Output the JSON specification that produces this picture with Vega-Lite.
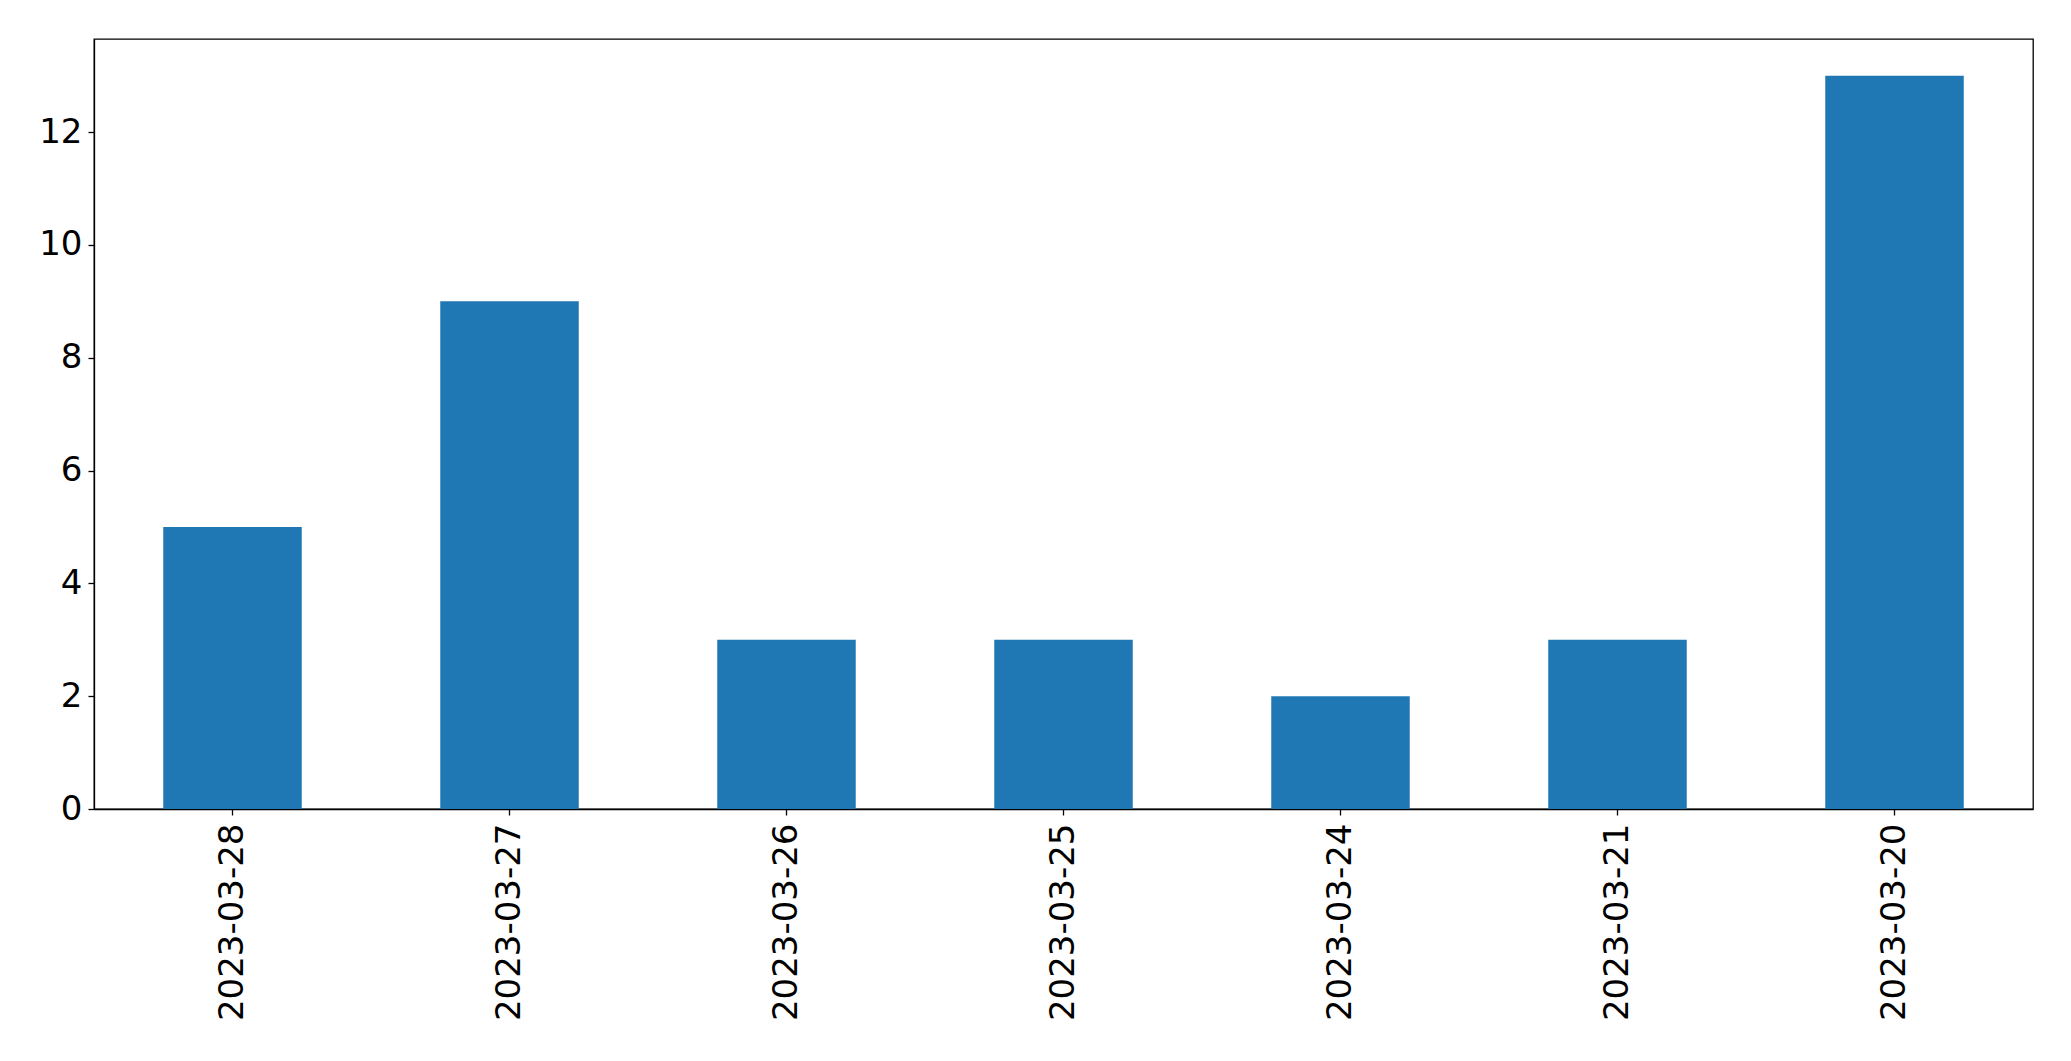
{
  "$schema": "https://vega.github.io/schema/vega-lite/v6.json",
  "autosize": "none",
  "width": 1939,
  "height": 770,
  "padding": {"left": 94, "top": 39, "right": 38, "bottom": 252},
  "background": "white",
  "config": {
    "view": {"stroke": "black", "strokeWidth": 1.3},
    "axis": {
      "labelFont": "DejaVu Sans",
      "labelFontSize": 34,
      "labelColor": "black",
      "labelLimit": 0,
      "domainColor": "black",
      "domainWidth": 1.3,
      "tickColor": "black",
      "tickWidth": 1.3,
      "tickSize": 6,
      "grid": false,
      "title": null
    }
  },
  "data": {
    "values": [
      {"date": "2023-03-28", "count": 5},
      {"date": "2023-03-27", "count": 9},
      {"date": "2023-03-26", "count": 3},
      {"date": "2023-03-25", "count": 3},
      {"date": "2023-03-24", "count": 2},
      {"date": "2023-03-21", "count": 3},
      {"date": "2023-03-20", "count": 13}
    ]
  },
  "mark": {"type": "bar", "color": "#1f77b4"},
  "encoding": {
    "x": {
      "field": "date",
      "type": "nominal",
      "sort": null,
      "scale": {"paddingInner": 0.5, "paddingOuter": 0.25},
      "axis": {"labelAngle": -90, "labelPadding": 8}
    },
    "y": {
      "field": "count",
      "type": "quantitative",
      "scale": {"domain": [0, 13.65], "nice": false},
      "axis": {"values": [0, 2, 4, 6, 8, 10, 12], "labelPadding": 6}
    }
  }
}
